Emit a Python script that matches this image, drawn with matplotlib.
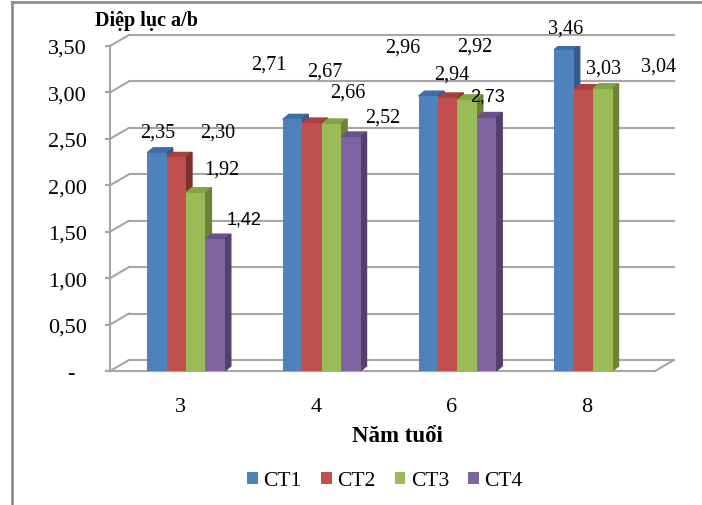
import matplotlib.pyplot as plt
import numpy as np
from matplotlib.patches import Polygon, Patch
from matplotlib.lines import Line2D

# ------------------------------------------------------------
# DATOS
# ------------------------------------------------------------
nam_tuoi = ["3", "4", "6", "8"]
series = ["CT1", "CT2", "CT3", "CT4"]
ct1 = [2.35, 2.71, 2.96, 3.46]
ct2 = [2.30, 2.67, 2.94, 3.03]
ct3 = [1.92, 2.66, 2.92, 3.04]
ct4 = [1.42, 2.52, 2.73, np.nan]
y_ticks = [0, 0.5, 1.0, 1.5, 2.0, 2.5, 3.0, 3.5]

# ------------------------------------------------------------
# ESTILO
# ------------------------------------------------------------
SERIF = ["Liberation Serif", "DejaVu Serif"]
SANS = ["Liberation Sans", "DejaVu Sans"]
plt.rcParams["font.family"] = SERIF

colores = ["#4F81BD", "#C0504D", "#9BBB59", "#8064A2"]
colores_top = ["#3F6DA6", "#A8403D", "#84A446", "#6A508C"]
colores_lado = ["#35598A", "#7F2F2D", "#6A8437", "#54406F"]
gris = "#A6A6A6"

# desplazamiento de etiquetas (px): (dx, dy) por grupo y serie
offs_etiquetas = [
    [(1, 21), (41, 25), (26, 24), (29, 20)],
    [(-24, 55), (13, 52), (16, 32), (32, 20)],
    [(-26, 49), (4, 24), (8, 54), (1, 21)],
    [(2, 22), (20, 22), (56, 23), (0, 0)],
]
etiquetas_sans = {(0, 3), (2, 3)}

W, H = 702, 506
fig = plt.figure(figsize=(W / 100, H / 100), dpi=100)

# ejes: px x 110..680, px y 47..372
x0_px, x1_px, y0_px, y1_px = 110, 680, 372, 47
ax = fig.add_axes([x0_px / W, 1 - y0_px / H, (x1_px - x0_px) / W, (y0_px - y1_px) / H])
px_x = 135.7  # px por categoría
px_y = (y0_px - y1_px) / 3.5
ax.set_xlim((x0_px - 186) / px_x, (x1_px - 186) / px_x)
ax.set_ylim(0, 3.5)

# profundidad de las paredes y de las barras (en unidades de datos)
dx_w, dy_w = 19 / px_x, 11 / px_y
dx_b, dy_b = 6 / px_x, 5 / px_y

xmin = ax.get_xlim()[0]
x_front_end = (655 - 186) / px_x

# paredes y suelo
for yv in y_ticks:
    ax.plot([xmin + dx_w, x_front_end + dx_w], [yv + dy_w, yv + dy_w],
            color=gris, lw=1.5, clip_on=False, zorder=1)
    ax.plot([xmin, xmin + dx_w], [yv, yv + dy_w], color=gris, lw=1.5,
            clip_on=False, zorder=1)
ax.plot([xmin, xmin], [0, 3.5], color=gris, lw=1.5, clip_on=False, zorder=1)
ax.plot([xmin - 0.03, x_front_end], [0, 0], color=gris, lw=1.5, clip_on=False, zorder=1)
ax.plot([x_front_end, x_front_end + dx_w], [0, dy_w], color=gris, lw=1.5,
        clip_on=False, zorder=1)
for yv in y_ticks:
    ax.plot([xmin - 0.03, xmin], [yv, yv], color=gris, lw=1.5, clip_on=False)

# barras 3D
ancho = 0.143
x = np.arange(len(nam_tuoi))
valores = [ct1, ct2, ct3, ct4]
for j, (vals, c) in enumerate(zip(valores, colores)):
    pos = x + (j - 1.5) * ancho
    barras = ax.bar(pos, vals, width=ancho, color=c, zorder=3 + j * 0.01)
    for b in barras:
        h = b.get_height()
        if np.isnan(h):
            continue
        xl = b.get_x()
        xr = xl + b.get_width()
        ax.add_patch(Polygon([(xl, h), (xr, h), (xr + dx_b, h + dy_b), (xl + dx_b, h + dy_b)],
                             closed=True, color=colores_top[j], zorder=2.9 + j * 0.01))
        ax.add_patch(Polygon([(xr, 0), (xr, h), (xr + dx_b, h + dy_b), (xr + dx_b, dy_b)],
                             closed=True, color=colores_lado[j], zorder=2.9 + j * 0.01))

# etiquetas de datos
for i in range(len(nam_tuoi)):
    for j, vals in enumerate(valores):
        v = vals[i]
        if np.isnan(v):
            continue
        dx, dy = offs_etiquetas[i][j]
        fam = SANS if (i, j) in etiquetas_sans else SERIF
        ax.annotate(f"{v:.2f}".replace(".", ","),
                    xy=(i + (j - 1.5) * ancho, v), xytext=(dx, dy),
                    textcoords="offset pixels", ha="center", va="center",
                    fontsize=14.5 if fam == SERIF else 13, family=fam,
                    zorder=10, annotation_clip=False)

# ejes
ax.set_xticks([])
ax.set_yticks(y_ticks)
ax.set_yticklabels(["-  "] + [f"{t:.2f}".replace(".", ",") for t in y_ticks[1:]],
                   fontsize=16)
ax.tick_params(axis="y", length=0, pad=16.5)
for s in ax.spines.values():
    s.set_visible(False)
ax.patch.set_visible(False)

for i, lab in enumerate(nam_tuoi):
    fig.text((186 - 6 + px_x * i) / W, 1 - 408 / H, lab, ha="center", va="center",
             fontsize=16)

fig.text(397 / W, 1 - 437 / H, "Năm tuổi", ha="center", va="center",
         fontsize=16.5, fontweight="bold")
fig.text(95 / W, 1 - 21 / H, "Diệp lục a/b", ha="left", va="center",
         fontsize=14.5, fontweight="bold")

# leyenda
handles = [Patch(facecolor=c, edgecolor="none") for c in colores]
fig.legend(handles, series, loc="center", bbox_to_anchor=(385 / W, 1 - 482 / H),
           ncol=4, frameon=False, fontsize=15.5, handlelength=0.5, handleheight=0.5,
           handletextpad=0.25, columnspacing=0.9)

# borde del gráfico
fig.add_artist(Line2D([12 / W, 1], [1 - 3 / H, 1 - 3 / H], color="#8C8C8C", lw=2))
fig.add_artist(Line2D([12 / W, 12 / W], [0, 1 - 3 / H], color="#8C8C8C", lw=2))

plt.savefig("out.png", dpi=100)
